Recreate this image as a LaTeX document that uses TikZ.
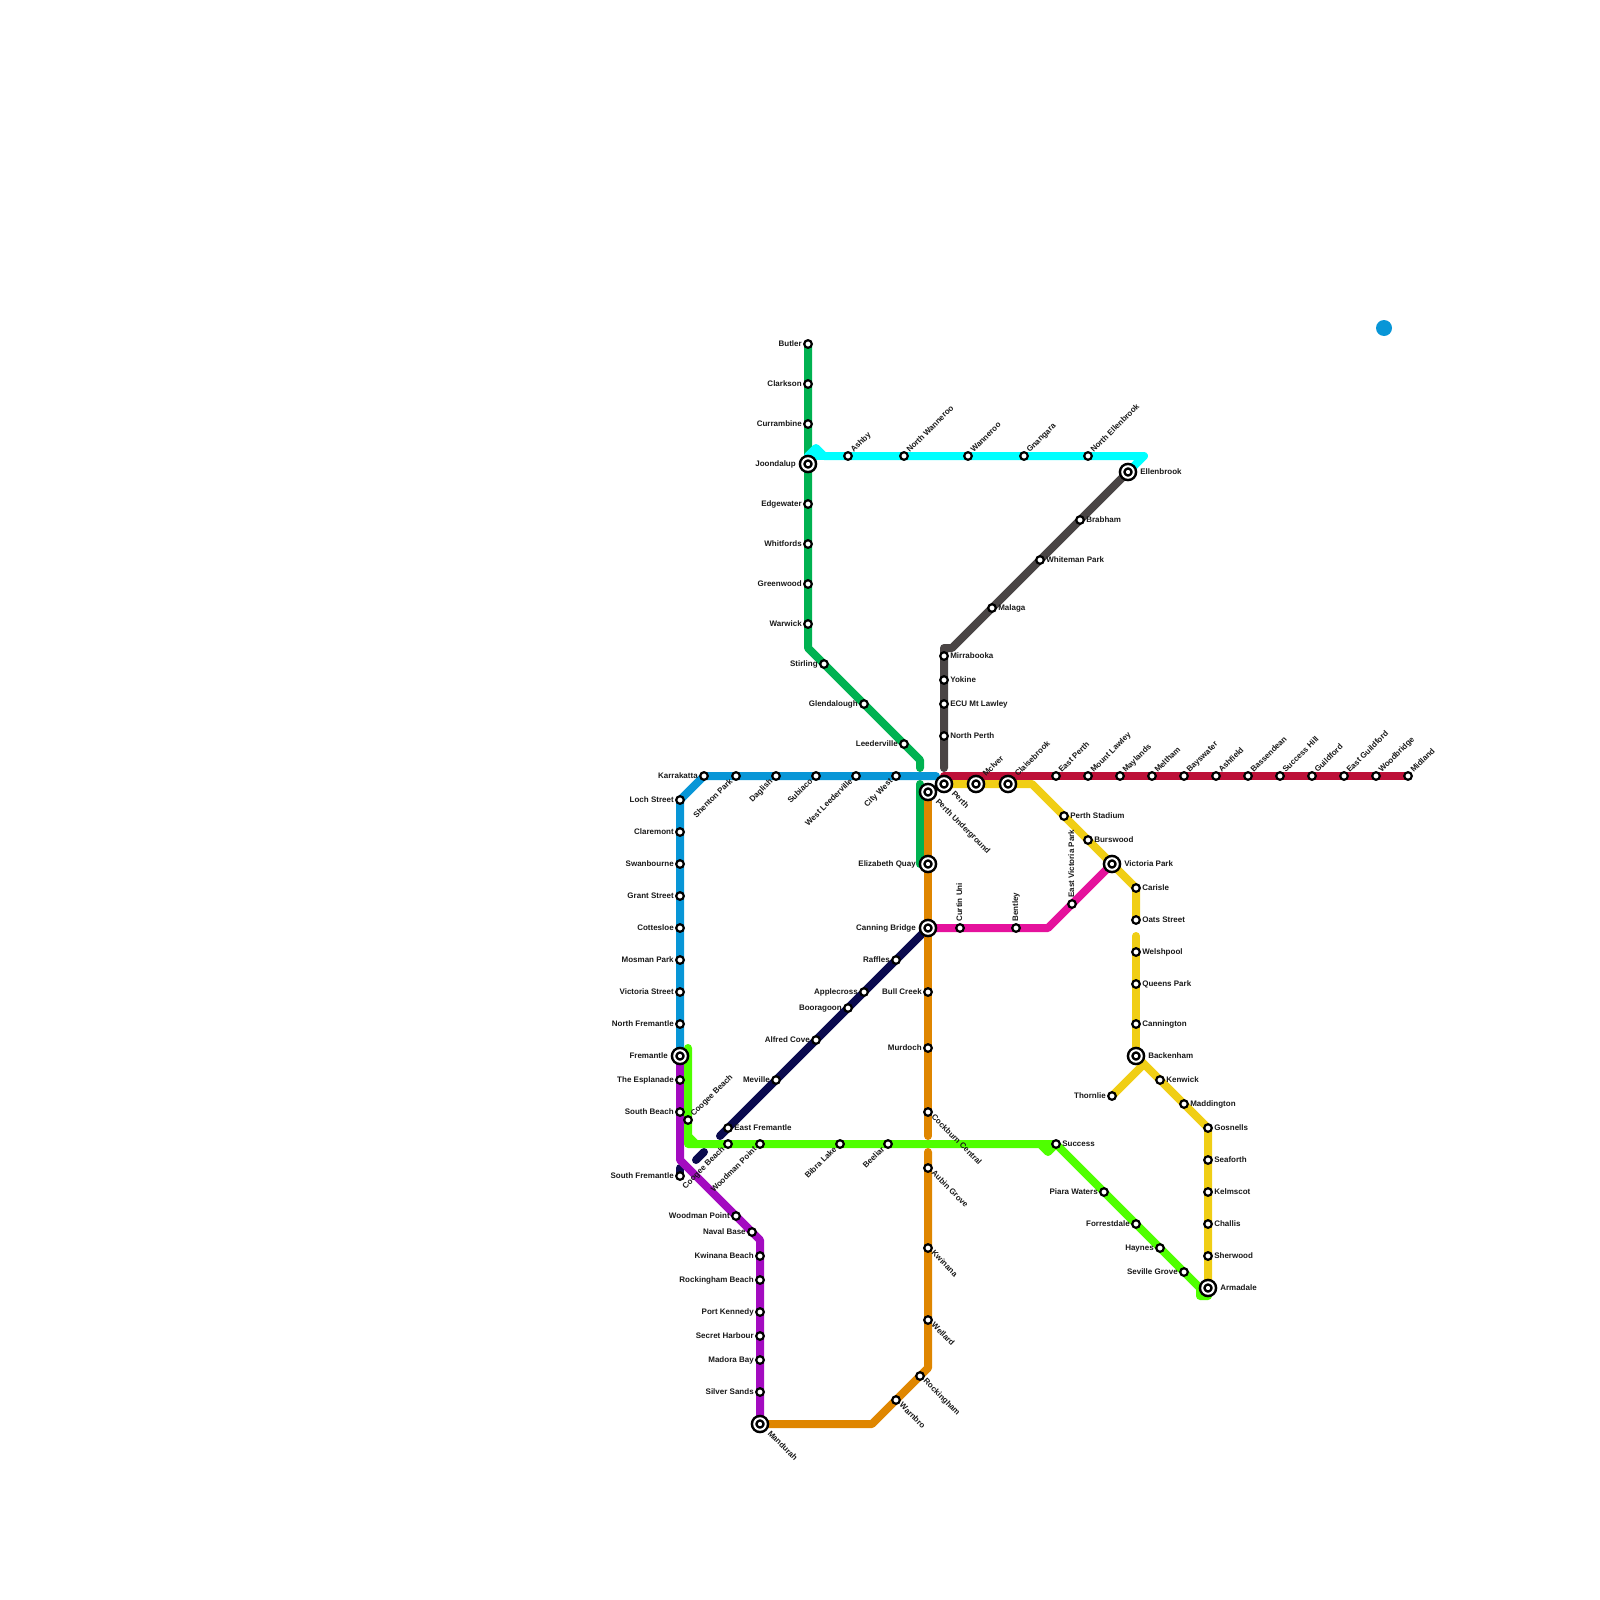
\documentclass[tikz,border=0pt]{standalone}
\usepackage{fontspec}
\setmainfont{Liberation Sans}
\usepackage{xcolor}
\usepackage{tikz}
\usetikzlibrary{positioning, backgrounds}

\definecolor{rosered}{HTML}{BD1038}
\definecolor{orangeline}{HTML}{DF8600}
\definecolor{yellowline}{HTML}{F0CE15}
\definecolor{greenline}{HTML}{00B251}
\definecolor{blueline}{HTML}{0896D7}
\definecolor{cyanline}{HTML}{00FFFF}
\definecolor{limeline}{HTML}{4FFF00}
\definecolor{purpleline}{HTML}{A30BC0}
\definecolor{magentaline}{HTML}{E5129C}
\definecolor{navyline}{HTML}{0A0A4F}
\definecolor{greyline}{HTML}{4A4545}

\begin{document}
\begin{tikzpicture}[
    x=1pt, y=-1pt, node distance=0pt,
    stn/.style={circle, draw=black, fill=white, line width=2.2pt, minimum size=7.6pt,
                inner sep=0pt, outer sep=0.5pt},
    hub/.style={circle, draw=black, fill=white, line width=2.5pt, double=white,
                double distance=2pt, minimum size=11.5pt, inner sep=0pt, outer sep=4.5pt},
    lbl/.style={font=\bfseries\fontsize{8}{8}\selectfont, text=black!90, inner xsep=1.8pt, inner ysep=0pt,
                text height=6pt, text depth=2pt},
    lblne/.style={lbl, rotate=45, anchor=west},
    lblse/.style={lbl, rotate=-45, anchor=west},
    lblsw/.style={lbl, rotate=45, anchor=east},
    lbln/.style={lbl, rotate=90, anchor=west},
    track/.style={line width=8pt, line cap=round, line join=round},
]
    \useasboundingbox (0,0) rectangle (1600,1600);

    % ── Joondalup line ──
    \node[stn] (butler) at (808,344) {};
    \node[lbl, left=of butler] (butlerl) {Butler};
    \node[stn] (clarkson) at (808,384) {};
    \node[lbl, left=of clarkson] (clarksonl) {Clarkson};
    \node[stn] (currambine) at (808,424) {};
    \node[lbl, left=of currambine] (currambinel) {Currambine};
    \node[hub] (joondalup) at (808,464) {};
    \node[lbl, left=of joondalup] (joondalupl) {Joondalup};
    \node[stn] (edgewater) at (808,504) {};
    \node[lbl, left=of edgewater] (edgewaterl) {Edgewater};
    \node[stn] (whitfords) at (808,544) {};
    \node[lbl, left=of whitfords] (whitfordsl) {Whitfords};
    \node[stn] (greenwood) at (808,584) {};
    \node[lbl, left=of greenwood] (greenwoodl) {Greenwood};
    \node[stn] (warwick) at (808,624) {};
    \node[lbl, left=of warwick] (warwickl) {Warwick};
    \node[stn] (stirling) at (824,664) {};
    \node[lbl, left=of stirling] (stirlingl) {Stirling};
    \node[stn] (glendalough) at (864,704) {};
    \node[lbl, left=of glendalough] (glendaloughl) {Glendalough};
    \node[stn] (leederville) at (904,744) {};
    \node[lbl, left=of leederville] (leedervillel) {Leederville};

    % ── Ellenbrook spur (cyan) ──
    \node[stn] (ashby) at (848,456) {};
    \node[lblne] (ashbyl) at (ashby.north east) {Ashby};
    \node[stn] (nwanneroo) at (904,456) {};
    \node[lblne] (nwannerool) at (nwanneroo.north east) {North Wanneroo};
    \node[stn] (wanneroo) at (968,456) {};
    \node[lblne] (wannerool) at (wanneroo.north east) {Wanneroo};
    \node[stn] (gnangara) at (1024,456) {};
    \node[lblne] (gnangaral) at (gnangara.north east) {Gnangara};
    \node[stn] (nellenbrook) at (1088,456) {};
    \node[lblne] (nellenbrookl) at (nellenbrook.north east) {North Ellenbrook};

    % ── Ellenbrook line (grey) ──
    \node[hub] (ellenbrook) at (1128,472) {};
    \node[lbl, right=of ellenbrook] (ellenbrookl) {Ellenbrook};
    \node[stn] (brabham) at (1080,520) {};
    \node[lbl, right=of brabham] (brabhaml) {Brabham};
    \node[stn] (whiteman) at (1040,560) {};
    \node[lbl, right=of whiteman] (whitemanl) {Whiteman Park};
    \node[stn] (malaga) at (992,608) {};
    \node[lbl, right=of malaga] (malagal) {Malaga};
    \node[stn] (mirrabooka) at (944,656) {};
    \node[lbl, right=of mirrabooka] (mirrabookal) {Mirrabooka};
    \node[stn] (yokine) at (944,680) {};
    \node[lbl, right=of yokine] (yokinel) {Yokine};
    \node[stn] (ecu) at (944,704) {};
    \node[lbl, right=of ecu] (eculbl) {ECU Mt Lawley};
    \node[stn] (nperth) at (944,736) {};
    \node[lbl, right=of nperth] (nperthl) {North Perth};

    % ── Fremantle line ──
    \node[stn] (karrakatta) at (704,776) {};
    \node[lbl, left=of karrakatta] (karrakattal) {Karrakatta};
    \node[stn] (shenton) at (736,776) {};
    \node[lblsw] (shentonl) at (shenton.south west) {Shenton Park};
    \node[stn] (daglish) at (776,776) {};
    \node[lblsw] (daglishl) at (daglish.south west) {Daglish};
    \node[stn] (subiaco) at (816,776) {};
    \node[lblsw] (subiacol) at (subiaco.south west) {Subiaco};
    \node[stn] (wleederville) at (856,776) {};
    \node[lblsw] (wleedervillel) at (wleederville.south west) {West Leederville};
    \node[stn] (citywest) at (896,776) {};
    \node[lblsw] (citywestl) at (citywest.south west) {City West};
    \node[stn] (loch) at (680,800) {};
    \node[lbl, left=of loch] (lochl) {Loch Street};
    \node[stn] (claremont) at (680,832) {};
    \node[lbl, left=of claremont] (claremontl) {Claremont};
    \node[stn] (swanbourne) at (680,864) {};
    \node[lbl, left=of swanbourne] (swanbournel) {Swanbourne};
    \node[stn] (grant) at (680,896) {};
    \node[lbl, left=of grant] (grantl) {Grant Street};
    \node[stn] (cottesloe) at (680,928) {};
    \node[lbl, left=of cottesloe] (cottesloel) {Cottesloe};
    \node[stn] (mosman) at (680,960) {};
    \node[lbl, left=of mosman] (mosmanl) {Mosman Park};
    \node[stn] (victoriast) at (680,992) {};
    \node[lbl, left=of victoriast] (victoriastl) {Victoria Street};
    \node[stn] (nfremantle) at (680,1024) {};
    \node[lbl, left=of nfremantle] (nfremantlel) {North Fremantle};
    \node[hub] (fremantle) at (680,1056) {};
    \node[lbl, left=of fremantle] (fremantlel) {Fremantle};

    % ── Mandurah coast line (purple) ──
    \node[stn] (esplanade) at (680,1080) {};
    \node[lbl, left=of esplanade] (esplanadel) {The Esplanade};
    \node[stn] (sbeach) at (680,1112) {};
    \node[lbl, left=of sbeach] (sbeachl) {South Beach};
    \node[stn] (sfremantle) at (680,1176) {};
    \node[lbl, left=of sfremantle] (sfremantlel) {South Fremantle};
    \node[stn] (woodmana) at (736,1216) {};
    \node[lbl, left=of woodmana] (woodmanal) {Woodman Point};
    \node[stn] (navalbase) at (752,1232) {};
    \node[lbl, left=of navalbase] (navalbasel) {Naval Base};
    \node[stn] (kwinanab) at (760,1256) {};
    \node[lbl, left=of kwinanab] (kwinanabl) {Kwinana Beach};
    \node[stn] (rockinghamb) at (760,1280) {};
    \node[lbl, left=of rockinghamb] (rockinghambl) {Rockingham Beach};
    \node[stn] (portkennedy) at (760,1312) {};
    \node[lbl, left=of portkennedy] (portkennedyl) {Port Kennedy};
    \node[stn] (secretharbour) at (760,1336) {};
    \node[lbl, left=of secretharbour] (secretharbourl) {Secret Harbour};
    \node[stn] (madora) at (760,1360) {};
    \node[lbl, left=of madora] (madoral) {Madora Bay};
    \node[stn] (silversands) at (760,1392) {};
    \node[lbl, left=of silversands] (silversandsl) {Silver Sands};
    \node[hub] (mandurah) at (760,1424) {};
    \node[lblse] (mandurahl) at (mandurah.south east) {Mandurah};

    % ── Mandurah line (orange) ──
    \node[hub] (perthug) at (928,792) {};
    \node[lblse] (perthugl) at (perthug.south east) {Perth Underground};
    \node[hub] (equay) at (928,864) {};
    \node[lbl, left=of equay] (equayl) {Elizabeth Quay};
    \node[hub] (canning) at (928,928) {};
    \node[lbl, left=of canning] (canningl) {Canning Bridge};
    \node[stn] (bullcreek) at (928,992) {};
    \node[lbl, left=of bullcreek] (bullcreekl) {Bull Creek};
    \node[stn] (murdoch) at (928,1048) {};
    \node[lbl, left=of murdoch] (murdochl) {Murdoch};
    \node[stn] (cockburn) at (928,1112) {};
    \node[lblse] (cockburnl) at (cockburn.south east) {Cockburn Central};
    \node[stn] (aubin) at (928,1168) {};
    \node[lblse] (aubinl) at (aubin.south east) {Aubin Grove};
    \node[stn] (kwinana) at (928,1248) {};
    \node[lblse] (kwinanal) at (kwinana.south east) {Kwinana};
    \node[stn] (wellard) at (928,1320) {};
    \node[lblse] (wellardl) at (wellard.south east) {Wellard};
    \node[stn] (rockingham) at (920,1376) {};
    \node[lblse] (rockinghaml) at (rockingham.south east) {Rockingham};
    \node[stn] (warnbro) at (896,1400) {};
    \node[lblse] (warnbrol) at (warnbro.south east) {Warnbro};

    % ── Navy line ──
    \node[stn] (raffles) at (896,960) {};
    \node[lbl, left=of raffles] (rafflesl) {Raffles};
    \node[stn] (applecross) at (864,992) {};
    \node[lbl, left=of applecross] (applecrossl) {Applecross};
    \node[stn] (booragoon) at (848,1008) {};
    \node[lbl, left=of booragoon] (booragoonl) {Booragoon};
    \node[stn] (alfredcove) at (816,1040) {};
    \node[lbl, left=of alfredcove] (alfredcovel) {Alfred Cove};
    \node[stn] (meville) at (776,1080) {};
    \node[lbl, left=of meville] (mevillel) {Meville};
    \node[stn] (efremantle) at (728,1128) {};
    \node[lbl, right=of efremantle] (efremantlel) {East Fremantle};

    % ── Lime line ──
    \node[stn] (coogeea) at (688,1120) {};
    \node[lblne] (coogeeal) at (coogeea.north east) {Coogee Beach};
    \node[stn] (coogeeb) at (728,1144) {};
    \node[lblsw] (coogeebl) at (coogeeb.south west) {Coogee Beach};
    \node[stn] (woodmanb) at (760,1144) {};
    \node[lblsw] (woodmanbl) at (woodmanb.south west) {Woodman Point};
    \node[stn] (bibra) at (840,1144) {};
    \node[lblsw] (bibral) at (bibra.south west) {Bibra Lake};
    \node[stn] (beeliar) at (888,1144) {};
    \node[lblsw] (beeliarl) at (beeliar.south west) {Beeliar};
    \node[stn] (success) at (1056,1144) {};
    \node[lbl, right=of success] (successl) {Success};
    \node[stn] (piara) at (1104,1192) {};
    \node[lbl, left=of piara] (piaral) {Piara Waters};
    \node[stn] (forrestdale) at (1136,1224) {};
    \node[lbl, left=of forrestdale] (forrestdalel) {Forrestdale};
    \node[stn] (haynes) at (1160,1248) {};
    \node[lbl, left=of haynes] (haynesl) {Haynes};
    \node[stn] (seville) at (1184,1272) {};
    \node[lbl, left=of seville] (sevillel) {Seville Grove};

    % ── Midland line ──
    \node[hub] (perth) at (944,784) {};
    \node[lblse] (perthl) at (perth.south east) {Perth};
    \node[hub] (mciver) at (976,784) {};
    \node[lblne] (mciverl) at (mciver.north east) {McIver};
    \node[hub] (claisebrook) at (1008,784) {};
    \node[lblne] (claisebrookl) at (claisebrook.north east) {Claisebrook};
    \node[stn] (eperth) at (1056,776) {};
    \node[lblne] (eperthl) at (eperth.north east) {East Perth};
    \node[stn] (mlawley) at (1088,776) {};
    \node[lblne] (mlawleyl) at (mlawley.north east) {Mount Lawley};
    \node[stn] (maylands) at (1120,776) {};
    \node[lblne] (maylandsl) at (maylands.north east) {Maylands};
    \node[stn] (meltham) at (1152,776) {};
    \node[lblne] (melthaml) at (meltham.north east) {Meltham};
    \node[stn] (bayswater) at (1184,776) {};
    \node[lblne] (bayswaterl) at (bayswater.north east) {Bayswater};
    \node[stn] (ashfield) at (1216,776) {};
    \node[lblne] (ashfieldl) at (ashfield.north east) {Ashfield};
    \node[stn] (bassendean) at (1248,776) {};
    \node[lblne] (bassendeanl) at (bassendean.north east) {Bassendean};
    \node[stn] (successhill) at (1280,776) {};
    \node[lblne] (successhilll) at (successhill.north east) {Success Hill};
    \node[stn] (guildford) at (1312,776) {};
    \node[lblne] (guildfordl) at (guildford.north east) {Guildford};
    \node[stn] (eguildford) at (1344,776) {};
    \node[lblne] (eguildfordl) at (eguildford.north east) {East Guildford};
    \node[stn] (woodbridge) at (1376,776) {};
    \node[lblne] (woodbridgel) at (woodbridge.north east) {Woodbridge};
    \node[stn] (midland) at (1408,776) {};
    \node[lblne] (midlandl) at (midland.north east) {Midland};

    % ── Armadale line ──
    \node[stn] (stadium) at (1064,816) {};
    \node[lbl, right=of stadium] (stadiuml) {Perth Stadium};
    \node[stn] (burswood) at (1088,840) {};
    \node[lbl, right=of burswood] (burswoodl) {Burswood};
    \node[hub] (vicpark) at (1112,864) {};
    \node[lbl, right=of vicpark] (vicparkl) {Victoria Park};
    \node[stn] (carisle) at (1136,888) {};
    \node[lbl, right=of carisle] (carislel) {Carisle};
    \node[stn] (oats) at (1136,920) {};
    \node[lbl, right=of oats] (oatsl) {Oats Street};
    \node[stn] (welshpool) at (1136,952) {};
    \node[lbl, right=of welshpool] (welshpooll) {Welshpool};
    \node[stn] (queenspark) at (1136,984) {};
    \node[lbl, right=of queenspark] (queensparkl) {Queens Park};
    \node[stn] (cannington) at (1136,1024) {};
    \node[lbl, right=of cannington] (canningtonl) {Cannington};
    \node[hub] (backenham) at (1136,1056) {};
    \node[lbl, right=of backenham] (backenhaml) {Backenham};
    \node[stn] (thornlie) at (1112,1096) {};
    \node[lbl, left=of thornlie] (thornliel) {Thornlie};
    \node[stn] (kenwick) at (1160,1080) {};
    \node[lbl, right=of kenwick] (kenwickl) {Kenwick};
    \node[stn] (maddington) at (1184,1104) {};
    \node[lbl, right=of maddington] (maddingtonl) {Maddington};
    \node[stn] (gosnells) at (1208,1128) {};
    \node[lbl, right=of gosnells] (gosnellsl) {Gosnells};
    \node[stn] (seaforth) at (1208,1160) {};
    \node[lbl, right=of seaforth] (seaforthl) {Seaforth};
    \node[stn] (kelmscot) at (1208,1192) {};
    \node[lbl, right=of kelmscot] (kelmscotl) {Kelmscot};
    \node[stn] (challis) at (1208,1224) {};
    \node[lbl, right=of challis] (challisl) {Challis};
    \node[stn] (sherwood) at (1208,1256) {};
    \node[lbl, right=of sherwood] (sherwoodl) {Sherwood};
    \node[hub] (armadale) at (1208,1288) {};
    \node[lbl, right=of armadale] (armadalel) {Armadale};

    % ── Thornlie line (magenta) ──
    \node[stn] (curtin) at (960,928) {};
    \node[lbln] (curtinl) at (curtin.north) {Curtin Uni};
    \node[stn] (bentley) at (1016,928) {};
    \node[lbln] (bentleyl) at (bentley.north) {Bentley};
    \node[stn] (evicpark) at (1072,904) {};
    \node[lbln] (evicparkl) at (evicpark.north) {East Victoria Park};

    % ── Corners and loose ends ──
    \coordinate (gbend) at (808,648);
    \coordinate (gdrop) at (920,760);
    \coordinate (gstub) at (920,768);
    \coordinate (gtop) at (920,784);
    \coordinate (gfoot) at (920,864);
    \coordinate (cstart) at (808,456);
    \coordinate (cpeak) at (816,448);
    \coordinate (cflat) at (824,456);
    \coordinate (cend) at (1144,456);
    \coordinate (dknee) at (952,648);
    \coordinate (dcorner) at (944,648);
    \coordinate (dfoot) at (944,768);
    \coordinate (bbend) at (704,776);
    \coordinate (bend) at (936,776);
    \coordinate (rstart) at (944,776);
    \coordinate (pbend) at (680,1160);
    \coordinate (pknee) at (760,1240);
    \coordinate (ocut) at (928,1136);
    \coordinate (oresume) at (928,1152);
    \coordinate (obend) at (928,1368);
    \coordinate (oknee) at (872,1424);
    \coordinate (ntail) at (720,1136);
    \coordinate (nbita) at (696,1160);
    \coordinate (nbitb) at (704,1152);
    \coordinate (nbitc) at (680,1168);
    \coordinate (ltop) at (688,1048);
    \coordinate (lcorner) at (688,1144);
    \coordinate (lchama) at (688,1136);
    \coordinate (lchamb) at (696,1144);
    \coordinate (lnotcha) at (1040,1144);
    \coordinate (lnotchb) at (1048,1152);
    \coordinate (lknee) at (1200,1288);
    \coordinate (lfoot) at (1200,1296);
    \coordinate (lend) at (1208,1296);
    \coordinate (ybend) at (1032,784);
    \coordinate (yresume) at (1136,936);
    \coordinate (yfork) at (1144,1064);
    \coordinate (mbend) at (1048,928);

    % ── Tracks, under the stations ──
    \begin{pgfonlayer}{background}
        \draw[track, navyline] (canning.center) -- (ntail);
        \draw[track, navyline] (nbita) -- (nbitb);
        \draw[track, navyline] (nbitc) -- (sfremantle.center);
        \draw[track, orangeline] (perthug.center) -- (ocut);
        \draw[track, orangeline] (oresume) -- (obend) -- (oknee) -- (mandurah.center);
        \draw[track, blueline] (fremantle.center) -- (loch.center) -- (bbend) -- (bend);
        \draw[track, purpleline] (fremantle.center) -- (pbend) -- (pknee) -- (mandurah.center);
        \draw[track, greenline] (butler.center) -- (gbend) -- (gdrop) -- (gstub);
        \draw[track, greenline] (gtop) -- (gfoot);
        \draw[track, cyanline] (joondalup.center) -- (cstart) -- (cpeak) -- (cflat) -- (cend) -- (ellenbrook.center);
        \draw[track, cyanline] (cstart) -- (cflat);
        \draw[track, greyline] (ellenbrook.center) -- (dknee) -- (dcorner) -- (dfoot);
        \draw[track, yellowline] (perth.center) -- (ybend) -- (carisle.center) -- (oats.center);
        \draw[track, yellowline] (yresume) -- (backenham.center);
        \draw[track, yellowline] (thornlie.center) -- (yfork) -- (gosnells.center) -- (armadale.center);
        \draw[track, yellowline] (backenham.center) -- (yfork);
        \draw[track, rosered] (rstart) -- (midland.center);
        \draw[track, magentaline] (canning.center) -- (mbend) -- (vicpark.center);
        \draw[track, limeline] (ltop) -- (lcorner) -- (lnotcha) -- (lnotchb) -- (success.center) -- (lknee) -- (lfoot) -- (lend);
        \draw[track, limeline] (lchama) -- (lchamb);
        \draw[track, limeline] (lnotcha) -- (success.center);
    \end{pgfonlayer}

    % ── Lone dot ──
    \node[circle, fill=blueline, minimum size=16pt, inner sep=0pt] (dot) at (1384,328) {};

\end{tikzpicture}
\end{document}
